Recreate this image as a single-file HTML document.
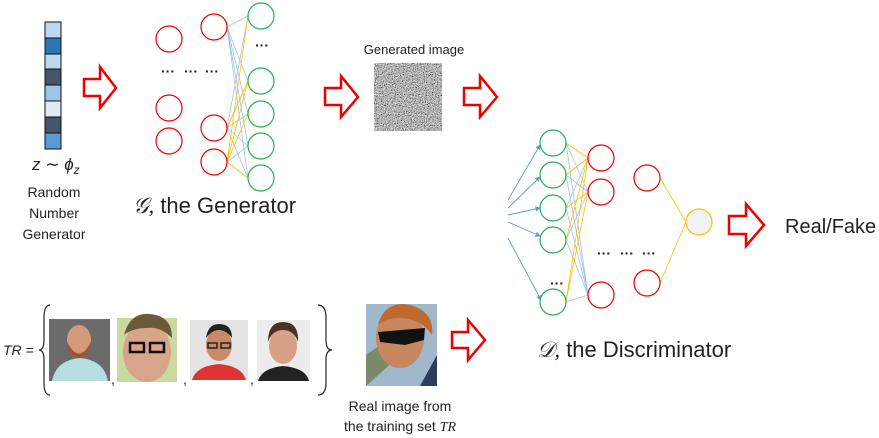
<!DOCTYPE html>
<html><head><meta charset="utf-8"><style>
body{margin:0;background:#fff;width:879px;height:438px;overflow:hidden}
svg{display:block}
text{font-family:"Liberation Sans","DejaVu Sans",sans-serif;fill:#222}
</style></head><body>
<svg width="879" height="438" viewBox="0 0 879 438" xmlns="http://www.w3.org/2000/svg">
<defs>
<filter id="noise" x="0" y="0" width="100%" height="100%">
<feTurbulence type="fractalNoise" baseFrequency="0.9" numOctaves="2" seed="3"/>
<feColorMatrix type="saturate" values="0"/>
<feComponentTransfer><feFuncR type="linear" slope="2" intercept="-0.55"/><feFuncG type="linear" slope="2" intercept="-0.55"/><feFuncB type="linear" slope="2" intercept="-0.55"/><feFuncA type="linear" slope="0" intercept="1"/></feComponentTransfer>
</filter>
<marker id="ah" markerWidth="6" markerHeight="6" refX="5" refY="3" orient="auto"><path d="M0,0 L6,3 L0,6 z" fill="#5b9bd5"/></marker>
</defs>

<g stroke="#111" stroke-width="1">
<rect x="45" y="22" width="16" height="16" fill="#bdd7ee"/>
<rect x="45" y="38" width="16" height="16" fill="#2e75b6"/>
<rect x="45" y="54" width="16" height="15" fill="#bdd7ee"/>
<rect x="45" y="69" width="16" height="16" fill="#44546a"/>
<rect x="45" y="85" width="16" height="16" fill="#9dc3e6"/>
<rect x="45" y="101" width="16" height="16" fill="#deebf7"/>
<rect x="45" y="117" width="16" height="16" fill="#44546a"/>
<rect x="45" y="133" width="16" height="16" fill="#5b9bd5"/>
</g>
<text x="32" y="170" font-family="Liberation Serif" font-style="italic" font-size="17">z ∼ ϕ<tspan font-size="12" dy="4">z</tspan></text>
<text x="54" y="197" font-size="14" text-anchor="middle">Random</text>
<text x="54" y="218" font-size="14" text-anchor="middle">Number</text>
<text x="54" y="239" font-size="14" text-anchor="middle">Generator</text>

<g fill="#fff" stroke="#e00" stroke-width="2.5" stroke-linejoin="miter">
<path d="M84,79 H100 V67 L116,88 L100,108 V96 H84 Z"/>
<path d="M325,88 H341 V76 L358,97 L341,117 V105 H325 Z"/>
<path d="M464,88 H480 V76 L497,97 L480,117 V105 H464 Z"/>
<path d="M729,216 H746 V204 L764,225 L746,246 V234 H729 Z"/>
<path d="M452,332 H468 V320 L485,340 L468,360 V348 H452 Z"/>
</g>

<g stroke-width="0.8" fill="none">
<g stroke="#9dc3e6">
<path d="M227,27 L248,16 M227,27 L248,81 M227,27 L248,114 M227,27 L248,146 M227,27 L248,178"/>
<path d="M227,128 L248,16 M227,128 L248,81 M227,128 L248,114 M227,128 L248,146 M227,128 L248,178"/>
<path d="M227,162 L248,146"/>
</g>
<g stroke="#ffc000">
<path d="M227,162 L248,16 M227,162 L248,81 M227,162 L248,114 M227,162 L248,178 M227,128 L248,81"/>
</g>
</g>
<g fill="#fff" stroke="#e00" stroke-width="1.2">
<circle cx="169" cy="39" r="13"/><circle cx="169" cy="108" r="13"/><circle cx="169" cy="141" r="13"/>
<circle cx="214" cy="27" r="13"/><circle cx="214" cy="128" r="13"/><circle cx="214" cy="162" r="13"/>
</g>
<g fill="#fff" stroke="#22b14c" stroke-width="1.2">
<circle cx="261" cy="16" r="13"/><circle cx="261" cy="81" r="13"/><circle cx="261" cy="114" r="13"/><circle cx="261" cy="146" r="13"/><circle cx="261" cy="178" r="13"/>
</g>
<text x="161" y="76" font-size="14" font-weight="bold">···</text>
<text x="184" y="76" font-size="14" font-weight="bold">···</text>
<text x="205" y="76" font-size="14" font-weight="bold">···</text>
<text x="255" y="50" font-size="14" font-weight="bold">···</text>
<text x="133" y="213" font-size="22"><tspan font-family="Liberation Serif" font-style="italic">𝒢,</tspan> the Generator</text>

<text x="414" y="54" font-size="13" text-anchor="middle">Generated image</text>
<rect x="374" y="63" width="68" height="68" fill="#777" filter="url(#noise)"/>

<g stroke="#5b9bd5" stroke-width="0.9" fill="none" marker-end="url(#ah)">
<path d="M508,200 L540,145"/><path d="M508,208 L540,177"/><path d="M508,215 L540,208"/><path d="M508,222 L540,236"/><path d="M508,238 L541,300"/>
</g>
<g stroke-width="0.8" fill="none">
<g stroke="#9dc3e6">
<path d="M566,143 L588,192 M566,143 L588,295 M566,175 L588,192 M566,175 L588,295 M566,208 L588,158 M566,208 L588,295 M566,240 L588,192 M566,240 L588,295 M566,302 L588,295"/>
</g>
<g stroke="#ffc000">
<path d="M566,143 L588,158 M566,175 L588,158 M566,208 L588,192 M566,240 L588,158 M566,302 L588,158 M566,302 L588,192"/>
<path d="M660,178 L686,222 M660,283 L686,222"/>
</g>
</g>
<g fill="#fff" stroke="#22b14c" stroke-width="1.2">
<circle cx="553" cy="143" r="13"/><circle cx="553" cy="175" r="13"/><circle cx="553" cy="208" r="13"/><circle cx="553" cy="240" r="13"/><circle cx="553" cy="302" r="13"/>
</g>
<g fill="#fff" stroke="#e00" stroke-width="1.2">
<circle cx="601" cy="158" r="13"/><circle cx="601" cy="192" r="13"/><circle cx="601" cy="295" r="13"/>
<circle cx="647" cy="178" r="13"/><circle cx="647" cy="283" r="13"/>
</g>
<circle cx="699" cy="222" r="13" fill="#f2f2f2" stroke="#ffc000" stroke-width="1.2"/>
<text x="550" y="288" font-size="14" font-weight="bold">···</text>
<text x="597" y="258" font-size="14" font-weight="bold">···</text>
<text x="620" y="258" font-size="14" font-weight="bold">···</text>
<text x="642" y="258" font-size="14" font-weight="bold">···</text>
<text x="785" y="233" font-size="20">Real/Fake</text>
<text x="537" y="357" font-size="22"><tspan font-family="Liberation Serif" font-style="italic">𝒟,</tspan> the Discriminator</text>

<text x="3" y="355" font-family="Liberation Serif" font-style="italic" font-size="14">TR =</text>
<path d="M50,305 Q44,305 44,318 V340 Q44,350 39,350 Q44,350 44,360 V383 Q44,395 50,395" fill="none" stroke="#222" stroke-width="1.2"/>
<path d="M318,305 Q326,305 326,318 V340 Q326,350 332,350 Q326,350 326,360 V383 Q326,395 318,395" fill="none" stroke="#222" stroke-width="1.2"/>
<rect x="49" y="319" width="61" height="62" fill="#6b6b6b"/>
<path d="M52,381 Q56,360 80,358 Q104,360 108,381 Z" fill="#b8dde0"/>
<ellipse cx="79" cy="340" rx="12" ry="15" fill="#d59a7a"/>
<path d="M67,342 Q79,365 91,342 Q90,356 79,358 Q68,356 67,342Z" fill="#a0522d"/>
<rect x="117" y="318" width="60" height="64" fill="#c9d9a0"/>
<ellipse cx="147" cy="352" rx="24" ry="30" fill="#d8a58a"/>
<path d="M124,335 Q130,312 150,314 Q172,316 172,338 Q160,326 147,328 Q132,328 124,335Z" fill="#6b5a3a"/>
<rect x="130" y="343" width="14" height="9" fill="none" stroke="#111" stroke-width="2.5"/>
<rect x="150" y="343" width="14" height="9" fill="none" stroke="#111" stroke-width="2.5"/>
<rect x="190" y="320" width="58" height="60" fill="#e4e4e4"/>
<path d="M192,380 Q196,366 219,364 Q242,366 246,380 Z" fill="#d33"/>
<ellipse cx="219" cy="345" rx="13" ry="16" fill="#c98a6a"/>
<path d="M206,338 Q208,324 219,324 Q232,324 232,338 Q226,330 219,330 Q212,330 206,338Z" fill="#222"/>
<rect x="208" y="343" width="9" height="5" fill="none" stroke="#222" stroke-width="1.5"/>
<rect x="221" y="343" width="9" height="5" fill="none" stroke="#222" stroke-width="1.5"/>
<rect x="257" y="320" width="53" height="61" fill="#ececec"/>
<path d="M258,381 Q262,368 283,366 Q306,368 309,381 Z" fill="#222"/>
<ellipse cx="283" cy="346" rx="14" ry="18" fill="#d6a184"/>
<path d="M268,342 Q268,322 283,322 Q299,322 298,342 Q294,330 283,330 Q272,330 268,342Z" fill="#4a3222"/>
<text x="111" y="384" font-size="14">,</text>
<text x="183" y="384" font-size="14">,</text>
<text x="250" y="384" font-size="14">,</text>
<rect x="366" y="304" width="71" height="82" fill="#9fb8cc"/>
<path d="M366,355 L380,345 L395,360 L366,386 Z" fill="#7d8a6a"/>
<ellipse cx="400" cy="338" rx="24" ry="30" fill="#c7875e"/>
<path d="M378,325 Q385,300 410,305 Q435,312 432,335 Q420,318 400,318 Q385,318 378,325Z" fill="#c0692e"/>
<path d="M378,332 L425,328 L424,340 L405,345 L380,342Z" fill="#111"/>
<path d="M420,386 L437,355 L437,386Z" fill="#2a3d5a"/>
<text x="400" y="411" font-size="14" text-anchor="middle">Real image from</text>
<text x="400" y="431" font-size="14" text-anchor="middle">the training set <tspan font-family="Liberation Serif" font-style="italic">TR</tspan></text>
</svg>
</body></html>
